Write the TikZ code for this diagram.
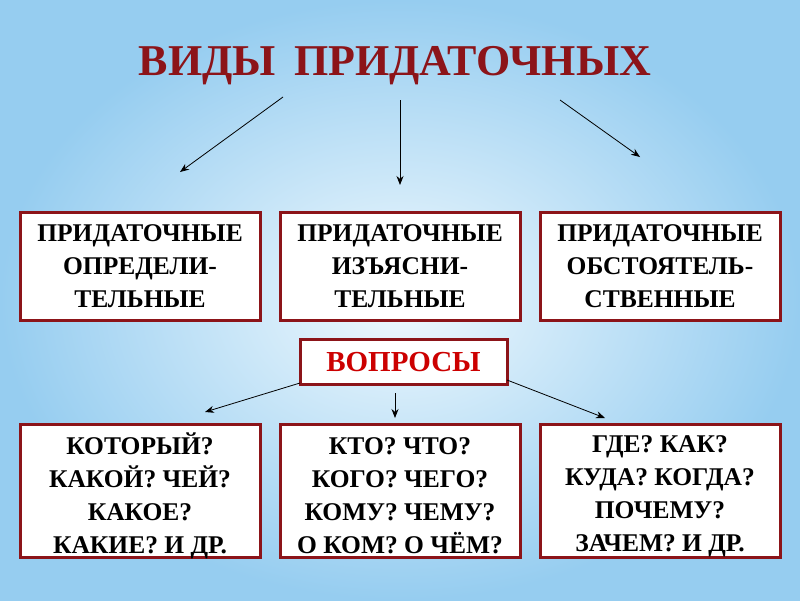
\documentclass[tikz,border=0pt]{standalone}
\usepackage{fontspec}
\setmainfont{Liberation Serif}
\usetikzlibrary{arrows.meta}
\begin{document}
\begin{tikzpicture}[x=1pt,y=-1pt,
  box/.style={draw=boxred,line width=3pt,fill=white,minimum width=240pt,inner sep=0pt,align=center,font=\bfseries\fontsize{25.5}{33}\selectfont},
  txt/.style={inner sep=0pt,align=center,font=\bfseries\fontsize{25.5}{33}\selectfont},
  arr/.style={-{Stealth[length=9pt,width=7pt]},line width=0.8pt,black}]
\definecolor{boxred}{RGB}{140,20,25}
\definecolor{bgin}{RGB}{240,249,254}
\definecolor{bgout}{RGB}{150,205,240}
\shade[inner color=bgin,outer color=bgout] (0,0) rectangle (800,600);
\useasboundingbox (0,0) rectangle (800,600);
\node[font=\bfseries\fontsize{44}{44}\selectfont,text=boxred] (title) at (395,66) {ВИДЫ\, ПРИДАТОЧНЫХ};
\node[box,minimum height=108pt] (a) at (140,266) {ПРИДАТОЧНЫЕ\\ОПРЕДЕЛИ-\\ТЕЛЬНЫЕ};
\node[box,minimum height=108pt] (b) at (400,266) {ПРИДАТОЧНЫЕ\\ИЗЪЯСНИ-\\ТЕЛЬНЫЕ};
\node[box,minimum height=108pt] (c) at (660,266) {ПРИДАТОЧНЫЕ\\ОБСТОЯТЕЛЬ-\\СТВЕННЫЕ};
\node[box,minimum width=207pt,minimum height=45pt,text=red!80!black,font=\bfseries\fontsize{29}{33}\selectfont] (q) at (403.5,362) {ВОПРОСЫ};
\node[box,minimum height=133pt] (d) at (140,491) {};
\node[box,minimum height=133pt] (e) at (400,491) {};
\node[box,minimum height=133pt] (f) at (660,491) {};
\node[txt] (dt) at (140,496) {КОТОРЫЙ?\\КАКОЙ? ЧЕЙ?\\КАКОЕ?\\КАКИЕ? И ДР.};
\node[txt] (et) at (400,496) {КТО? ЧТО?\\КОГО? ЧЕГО?\\КОМУ? ЧЕМУ?\\О КОМ? О ЧЁМ?};
\node[txt] (ft) at (660,496) {ГДЕ? КАК?\\КУДА? КОГДА?\\ПОЧЕМУ?\\ЗАЧЕМ? И ДР.};
\coordinate (t1) at (283,97); \coordinate (h1) at (180,172);
\coordinate (t2) at (400,100); \coordinate (h2) at (400,185);
\coordinate (t3) at (560,100); \coordinate (h3) at (640,157);
\draw[arr] (t1) -- (h1);
\draw[arr] (t2) -- (h2);
\draw[arr] (t3) -- (h3);
\coordinate (q1) at (300,383); \coordinate (g1) at (205,412);
\coordinate (q2) at (395,393); \coordinate (g2) at (395,418);
\coordinate (q3) at (507,380); \coordinate (g3) at (605,418);
\draw[arr] (q1) -- (g1);
\draw[arr] (q2) -- (g2);
\draw[arr] (q3) -- (g3);
\end{tikzpicture}
\end{document}
